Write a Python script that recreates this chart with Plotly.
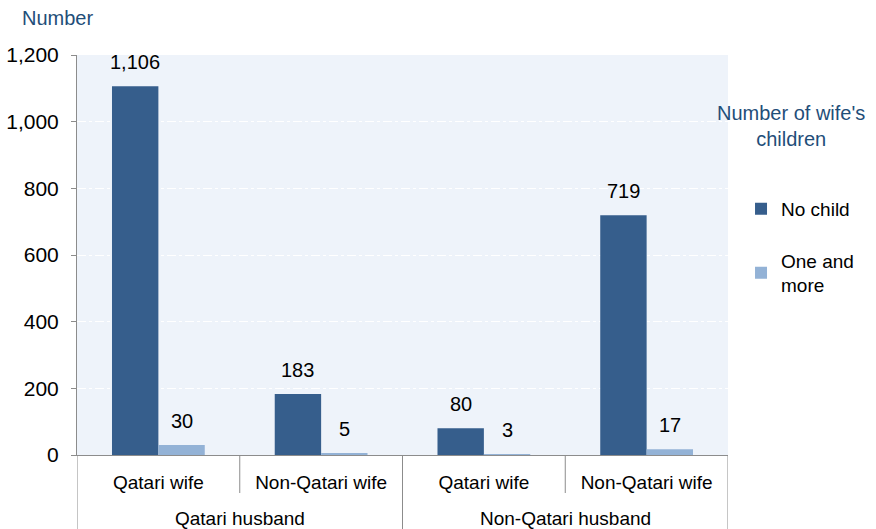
import plotly.graph_objects as go

husband = ["Qatari husband", "Qatari husband", "Non-Qatari husband", "Non-Qatari husband"]
wife = ["Qatari wife", "Non-Qatari wife", "Qatari wife", "Non-Qatari wife"]
no_child = [1106, 183, 80, 719]
one_more = [30, 5, 3, 17]
series_names = ["No child", "One and<br>more"]
colors = ["#365E8C", "#93B2D6"]
y_ticks = [0, 200, 400, 600, 800, 1000, 1200]

FONT = "Liberation Sans, Arial, sans-serif"
BARGAP = 0.43
FS = 20
AXIS_GREY = "#8C8C8C"

xpos = list(range(len(wife)))

fig = go.Figure()
for i, (name, vals) in enumerate(zip(series_names, [no_child, one_more])):
    fig.add_trace(go.Bar(
        x=xpos, y=vals, name=name,
        marker=dict(color=colors[i], line=dict(width=0)),
        legendgroup=str(i),
    ))

annotations = []
w = (1 - BARGAP) / 2
for s, vals in enumerate([no_child, one_more]):
    for i, v in enumerate(vals):
        annotations.append(dict(
            x=xpos[i] + (s - 0.5) * w, y=v, xref="x", yref="y",
            text=f"{v:,}", showarrow=False, yanchor="middle", yshift=24,
            font=dict(family=FONT, size=FS, color="#000000"),
        ))

# outer (husband) category labels
groups = []
for i, h in enumerate(husband):
    if not groups or groups[-1][0] != h:
        groups.append([h, []])
    groups[-1][1].append(xpos[i])
for h, idx in groups:
    annotations.append(dict(
        x=sum(idx) / len(idx), y=0, xref="x", yref="paper", yshift=-63,
        text=h, showarrow=False, yanchor="middle", xanchor="center",
        font=dict(family=FONT, size=FS - 1, color="#000000"),
    ))

# dividers between categories
shapes = []
n = len(wife)
for i in range(n + 1):
    xb = i - 0.5
    outer = i == 0 or i == n or husband[i] != husband[i - 1]
    shapes.append(dict(
        type="line", xref="x", yref="paper", x0=xb, x1=xb,
        y0=0, y1=-0.2 if outer else -0.095,
        line=dict(color=AXIS_GREY, width=1),
    ))

annotations.append(dict(
    x=0, y=1, xref="paper", yref="paper", xshift=-57, yshift=37,
    xanchor="left", yanchor="middle", text="Number", showarrow=False,
    font=dict(family=FONT, size=FS, color="#1F4E79"),
))
annotations.append(dict(
    x=1.097, y=1, xref="paper", yref="paper", yshift=-45,
    xanchor="center", yanchor="top", text="Number of wife's<br>children",
    showarrow=False, align="center",
    font=dict(family=FONT, size=FS, color="#1F4E79"),
))

fig.update_layout(
    width=876, height=529,
    margin=dict(l=77, r=148, t=55, b=74, autoexpand=False),
    paper_bgcolor="white", plot_bgcolor="#EEF3FA",
    barmode="group", bargap=BARGAP, bargroupgap=0,
    font=dict(family=FONT, size=FS, color="#000000"),
    showlegend=True,
    legend=dict(
        x=1.02, y=0.663, xanchor="left", yanchor="top",
        traceorder="grouped", tracegroupgap=24,
        font=dict(family=FONT, size=FS - 1, color="#000000"),
        bgcolor="rgba(0,0,0,0)",
    ),
    annotations=annotations,
    shapes=shapes,
    xaxis=dict(
        range=[-0.5, n - 0.5], tickvals=xpos, ticktext=wife,
        showline=True, linecolor=AXIS_GREY, linewidth=1, ticks="",
        ticklabelstandoff=10,
        showgrid=False, zeroline=False,
        tickfont=dict(family=FONT, size=FS - 1, color="#000000"),
    ),
    yaxis=dict(
        range=[0, 1200], tickvals=y_ticks, tickformat=",d",
        showline=True, linecolor=AXIS_GREY, linewidth=1,
        ticks="outside", ticklen=5, tickcolor=AXIS_GREY,
        ticklabelstandoff=8,
        showgrid=True, gridcolor="white", griddash="dashdot", gridwidth=1,
        zeroline=False,
        tickfont=dict(family=FONT, size=FS + 1, color="#000000"),
    ),
)

fig.write_html(
    "out.html",
    config={"displayModeBar": False},
    post_script="document.body.style.margin='0';document.body.style.overflow='hidden';",
)
